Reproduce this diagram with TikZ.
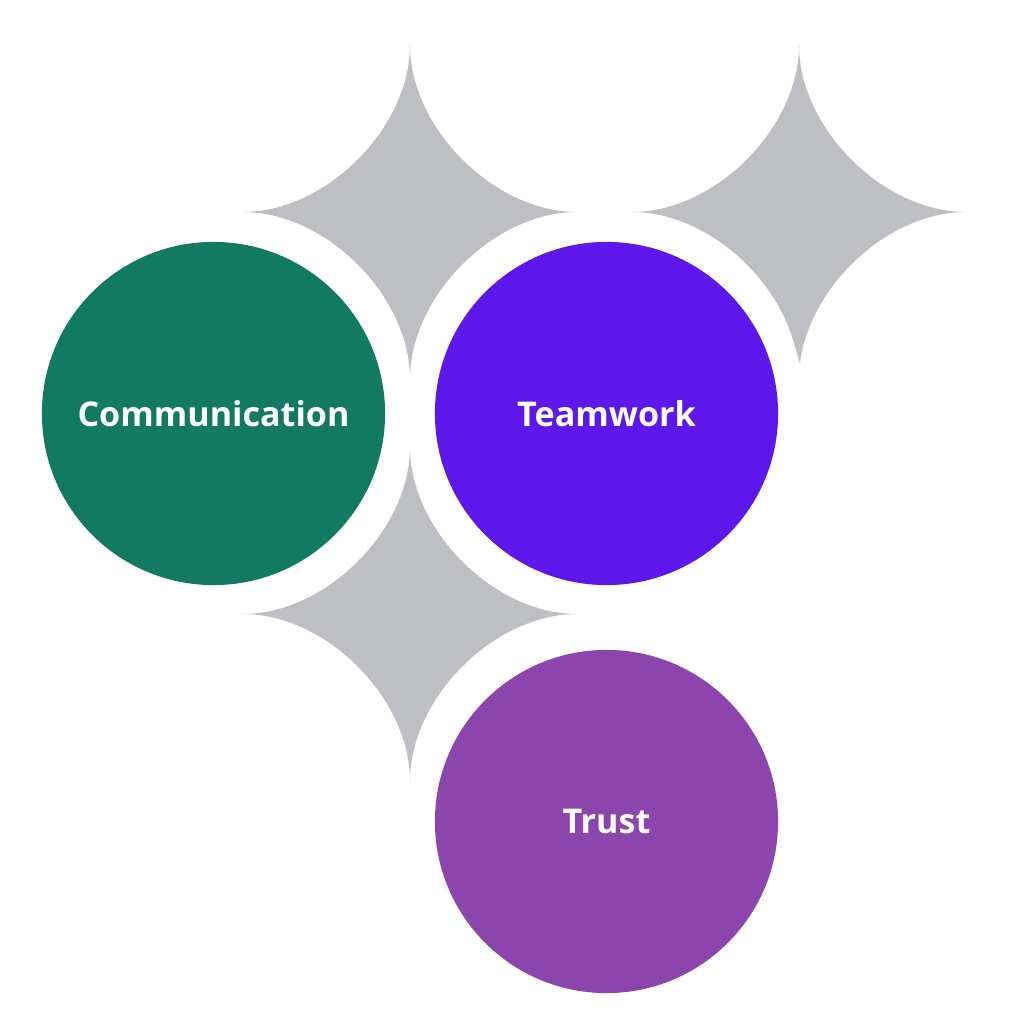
\documentclass[tikz,border=0pt]{standalone}
\usepackage{fontspec}
\setmainfont{Open Sans}
\definecolor{cgreen}{HTML}{127A63}
\definecolor{cpurple}{HTML}{5E17EB}
\definecolor{cviolet}{HTML}{8C45AC}
\definecolor{cgray}{HTML}{BEBFC3}
\newcommand{\sparkle}[2]{%
  \fill[sparklefill] (#1,#2-167)
    .. controls (#1,#2-84) and (#1+84,#2) .. (#1+167,#2)
    .. controls (#1+84,#2) and (#1,#2+84) .. (#1,#2+167)
    .. controls (#1,#2+84) and (#1-84,#2) .. (#1-167,#2)
    .. controls (#1-84,#2) and (#1,#2-84) .. cycle;}
\begin{document}
\begin{tikzpicture}[x=0.01cm,y=-0.01cm,
  sparklefill/.style={fill=cgray},
  ring/.style={fill=white},
  bubble/.style={circle, inner sep=0pt, minimum size=3.43cm, text=white,
    font=\fontsize{9.7}{12}\selectfont\bfseries}]
\useasboundingbox[fill=white] (0,0) rectangle (1009,1024);
\coordinate (p1) at (213.5,413.5);
\coordinate (p2) at (606.5,413.5);
\coordinate (p3) at (606.5,821.5);
\sparkle{410}{212}
\sparkle{799}{212}
\sparkle{410}{614}
\fill[ring] (p1) circle (1.995cm);
\fill[ring] (p2) circle (1.995cm);
\fill[ring] (p3) circle (1.995cm);
\node[bubble, fill=cgreen] (comm) at (p1) {Communication};
\node[bubble, fill=cpurple] (team) at (p2) {Teamwork};
\node[bubble, fill=cviolet] (trust) at (p3) {Trust};
\end{tikzpicture}
\end{document}
